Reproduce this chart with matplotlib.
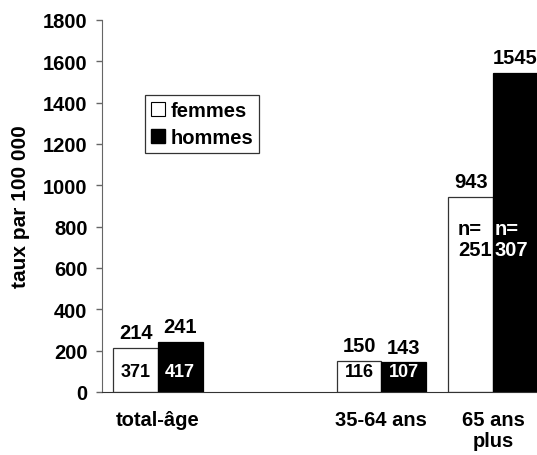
import matplotlib
matplotlib.use("Agg")
import matplotlib.pyplot as plt
from matplotlib.patches import Patch
import numpy as np

categories = ["total-âge", "", "35-64 ans", "65 ans\nplus"]
femmes = [214, None, 150, 943]
hommes = [241, None, 143, 1545]
n_femmes = ["371", None, "116", "n=\n251"]
n_hommes = ["417", None, "107", "n=\n307"]
yticks = [0, 200, 400, 600, 800, 1000, 1200, 1400, 1600, 1800]

plt.rcParams['font.family'] = ['Liberation Sans', 'DejaVu Sans']
plt.rcParams['font.weight'] = 'bold'

fig = plt.figure(figsize=(5.37, 4.56), dpi=100)
ax = fig.add_axes([102/537, 63/456, 447/537, 372/456])

x = np.arange(len(categories))
w = 0.4
fs = 14.5
fs_in = 13

for i in range(len(categories)):
    if femmes[i] is None:
        continue
    ax.bar(x[i] - w/2, femmes[i], w, color='white', edgecolor='#333333', linewidth=0.9)
    ax.bar(x[i] + w/2, hommes[i], w, color='black', edgecolor='black', linewidth=0.9)
    ax.annotate(str(femmes[i]), (x[i] - w/2, femmes[i]), xytext=(0, 7), textcoords='offset points',
                ha='center', va='baseline', fontsize=fs, fontweight='bold')
    ax.annotate(str(hommes[i]), (x[i] + w/2, hommes[i]), xytext=(0, 7), textcoords='offset points',
                ha='center', va='baseline', fontsize=fs, fontweight='bold')
    if femmes[i] < 500:
        ax.text(x[i] - w/2, 100, n_femmes[i], ha='center', va='center', color='black',
                fontsize=fs_in, fontweight='bold')
        ax.text(x[i] + w/2, 100, n_hommes[i], ha='center', va='center', color='white',
                fontsize=fs_in, fontweight='bold')
    else:
        ax.annotate(n_femmes[i], (x[i], 740), xytext=(-1, 0), textcoords='offset points',
                    ha='right', va='center', color='black', fontsize=fs, fontweight='bold',
                    multialignment='left', linespacing=1.15)
        ax.annotate(n_hommes[i], (x[i], 740), xytext=(1, 0), textcoords='offset points',
                    ha='left', va='center', color='white', fontsize=fs, fontweight='bold',
                    multialignment='left', linespacing=1.15)

ax.set_xlim(-0.5, len(categories) - 0.5)
ax.set_ylim(0, 1800)
ax.set_yticks(yticks)
ax.set_yticklabels([str(t) for t in yticks], fontsize=fs, fontweight='bold')
ax.set_xticks(x)
ax.set_xticklabels(categories, fontsize=fs, fontweight='bold', linespacing=1.1)
ax.tick_params(axis='x', length=0, pad=13)
ax.tick_params(axis='y', length=4.5, width=1, color='#666666', pad=6)
ax.spines['top'].set_visible(False)
ax.spines['right'].set_visible(False)
ax.spines['left'].set_color('#666666')
ax.spines['bottom'].set_color('#333333')
ax.set_ylabel("taux par 100 000", fontsize=15, fontweight='bold', labelpad=9)

handles = [Patch(facecolor='white', edgecolor='black', linewidth=0.8, label='femmes'),
           Patch(facecolor='black', edgecolor='black', label='hommes')]
leg = fig.legend(handles=handles, loc='upper left', bbox_to_anchor=(145/537, 1 - 96/456),
                 fontsize=fs, frameon=True, fancybox=False, edgecolor='black',
                 handlelength=0.7, handleheight=0.7, handletextpad=0.25, borderpad=0.3,
                 labelspacing=0.4, borderaxespad=0)
leg.get_frame().set_linewidth(0.9)
for t in leg.get_texts():
    t.set_fontweight('bold')

fig.savefig("out.png", dpi=100)
